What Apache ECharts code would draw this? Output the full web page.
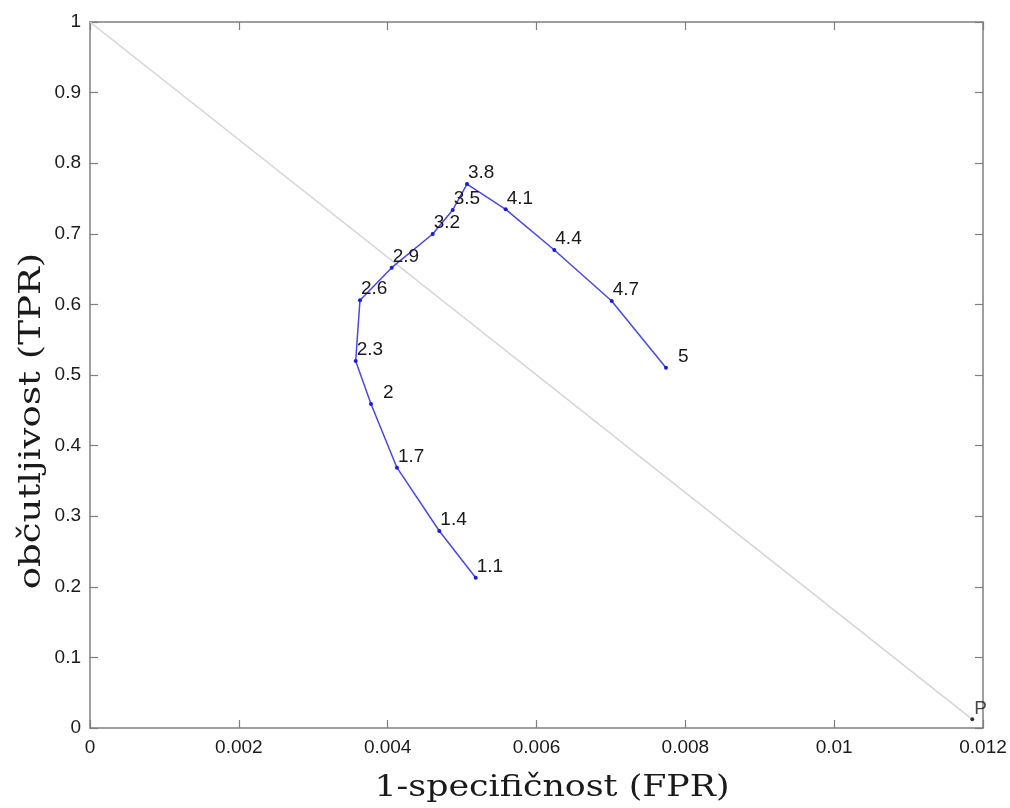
<!DOCTYPE html>
<html>
<head>
<meta charset="utf-8">
<script src="https://cdn.jsdelivr.net/npm/echarts@6/dist/echarts.min.js"></script>
<style>
html,body{margin:0;padding:0;background:#fff;}
#chart{width:1010px;height:808px;}
</style>
</head>
<body>
<div id="chart"></div>
<script>
// ROC curve data (FPR, TPR) and threshold labels
const rocLabels = ['1.1','1.4','1.7','2','2.3','2.6','2.9','3.2','3.5','3.8','4.1','4.4','4.7','5'];
const rocFPR = [0.005183,0.004694,0.004125,0.003776,0.003570,0.003628,0.004054,0.004605,0.004874,0.005066,0.005586,0.006239,0.007010,0.007740];
const rocTPR = [0.2129,0.2790,0.3687,0.4590,0.5198,0.6060,0.6520,0.6997,0.7337,0.7705,0.7347,0.6770,0.6048,0.5103];
const pointP = {label:'P', fpr:0.011856, tpr:0.0123};
const diagStart = [0, 1];
const xTicks = {min:0, max:0.012, interval:0.002};
const yTicks = {min:0, max:1, interval:0.1};
const xTitle = '1-specifičnost (FPR)';
const yTitle = 'občutljivost (TPR)';

const chart = echarts.init(document.getElementById('chart'));
const tickFont = {fontFamily:'Liberation Sans, Arial, sans-serif', fontSize:19, color:'#1a1a1a'};
const axisGray = '#7f7f7f';
const titleFont = '29px "DejaVu Serif", "Liberation Serif", serif';

function fmt(v){ return String(+v.toFixed(6)); }

const rocData = rocFPR.map((x,i)=>({
  value:[x, rocTPR[i]],
  label:{position:[rocLabels[i].length===1 ? 14 : 3, -9], formatter: rocLabels[i]}
}));

const frameAxis = {
  axisLine:{show:true, onZero:false, lineStyle:{color:axisGray, width:1.5}},
  axisTick:{show:true, inside:true, length:8, lineStyle:{color:axisGray, width:1.2}},
  splitLine:{show:false}
};

chart.setOption({
  animation:false,
  backgroundColor:'#fff',
  grid:{left:90, right:27, top:22, bottom:80, containLabel:false},
  xAxis:[
    Object.assign({type:'value', position:'bottom', min:xTicks.min, max:xTicks.max, interval:xTicks.interval,
      axisLabel:Object.assign({margin:10, formatter:fmt}, tickFont)}, frameAxis),
    Object.assign({type:'value', position:'top', min:xTicks.min, max:xTicks.max, interval:xTicks.interval,
      axisLabel:{show:false}}, frameAxis)
  ],
  yAxis:[
    Object.assign({type:'value', position:'left', min:yTicks.min, max:yTicks.max, interval:yTicks.interval,
      axisLabel:Object.assign({margin:9, formatter:fmt}, tickFont)}, frameAxis),
    Object.assign({type:'value', position:'right', min:yTicks.min, max:yTicks.max, interval:yTicks.interval,
      axisLabel:{show:false}}, frameAxis)
  ],
  graphic:[
    {type:'text', x:552, y:788, scaleX:1.2, style:{text:xTitle, font:titleFont, fill:'#1a1a1a', align:'center', verticalAlign:'middle'}},
    {type:'text', x:32, y:421, scaleX:1.28, rotation:Math.PI/2, style:{text:yTitle, font:titleFont, fill:'#1a1a1a', align:'center', verticalAlign:'middle'}}
  ],
  series:[
    {
      type:'line', data:[diagStart, [pointP.fpr, pointP.tpr]], symbol:'none', silent:true,
      lineStyle:{color:'#d4d4d4', width:1.5}, z:1
    },
    {
      type:'line', data:rocData, symbol:'circle', symbolSize:4,
      itemStyle:{color:'#1a1add'}, lineStyle:{color:'#4848e8', width:1.5},
      label:{show:true, align:'left', verticalAlign:'middle', fontFamily:'Liberation Sans, Arial, sans-serif', fontSize:19, color:'#1a1a1a'},
      z:3
    },
    {
      type:'scatter', data:[{value:[pointP.fpr, pointP.tpr]}], symbol:'circle', symbolSize:4,
      itemStyle:{color:'#000'},
      label:{show:true, formatter:pointP.label, position:[4,-9], align:'left', verticalAlign:'middle', fontFamily:'Liberation Sans, Arial, sans-serif', fontSize:19, color:'#1a1a1a'},
      z:3
    }
  ]
});
</script>
</body>
</html>
